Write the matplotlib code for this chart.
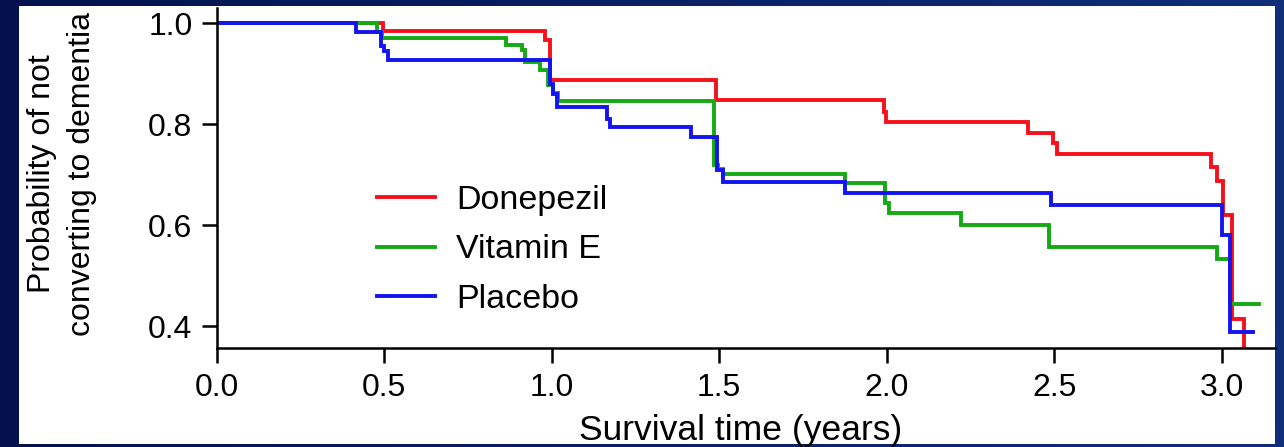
import numpy as np
import matplotlib
matplotlib.use("Agg")
import matplotlib.pyplot as plt
from matplotlib.patches import Rectangle

plt.rcParams['font.family'] = ['Liberation Sans', 'DejaVu Sans']

# Kaplan-Meier estimates: event times (years) and survival after each step
donepezil_t = [0.0, 0.495, 0.979, 0.994, 1.490, 1.991, 1.998, 2.421, 2.495, 2.507,
               2.969, 2.985, 3.005, 3.030, 3.067]
donepezil_s = [1.0, 0.985, 0.966, 0.888, 0.848, 0.825, 0.805, 0.783, 0.762, 0.741,
               0.715, 0.688, 0.620, 0.414, 0.300]

vitamin_e_t = [0.0, 0.477, 0.492, 0.865, 0.910, 0.920, 0.964, 0.989, 1.004, 1.019,
               1.483, 1.495, 1.510, 1.876, 1.995, 2.007, 2.223, 2.485, 2.987, 3.025, 3.112]
vitamin_e_s = [1.0, 0.983, 0.971, 0.957, 0.947, 0.924, 0.907, 0.878, 0.862, 0.845,
               0.720, 0.712, 0.702, 0.684, 0.644, 0.623, 0.600, 0.557, 0.532, 0.444, 0.444]

placebo_t = [0.0, 0.417, 0.490, 0.498, 0.511, 0.994, 1.004, 1.015, 1.164, 1.174,
             1.416, 1.493, 1.512, 1.876, 2.489, 3.000, 3.025, 3.094]
placebo_s = [1.0, 0.982, 0.955, 0.945, 0.927, 0.880, 0.860, 0.835, 0.810, 0.795,
             0.775, 0.709, 0.685, 0.663, 0.639, 0.580, 0.389, 0.389]

series = [
    ("Donepezil", donepezil_t, donepezil_s, "#f5101c"),
    ("Vitamin E", vitamin_e_t, vitamin_e_s, "#14aa14"),
    ("Placebo", placebo_t, placebo_s, "#1414f0"),
]

x_ticks = [0.0, 0.5, 1.0, 1.5, 2.0, 2.5, 3.0]
x_tick_labels = ["0.0", "0.5", "1.0", "1.5", "2.0", "2.5", "3.0"]
y_ticks = [0.4, 0.6, 0.8, 1.0]
y_tick_labels = ["0.4", "0.6", "0.8", "1.0"]

W, H = 1284, 447
fig = plt.figure(figsize=(W / 100, H / 100), dpi=100)

# navy slide background with a soft left-to-right gradient
bg = fig.add_axes([0, 0, 1, 1], zorder=-10)
left_c = np.array([3, 18, 78]) / 255
right_c = np.array([16, 46, 122]) / 255
grad = np.linspace(0, 1, 256)[None, :, None]
img = left_c[None, None, :] * (1 - grad) + right_c[None, None, :] * grad
bg.imshow(img, aspect='auto', extent=[0, 1, 0, 1])
bg.axis('off')

# white chart panel
panel_l, panel_r, panel_t, panel_b = 19, 1275, 6, 444
fig.patches.append(Rectangle((panel_l / W, 1 - panel_b / H),
                             (panel_r - panel_l) / W, (panel_b - panel_t) / H,
                             transform=fig.transFigure, facecolor='white',
                             edgecolor='none', zorder=-5))

ax_l, ax_r, ax_t, ax_b = 216.7, 1275, 8, 348.3
ax = fig.add_axes([ax_l / W, 1 - ax_b / H, (ax_r - ax_l) / W, (ax_b - ax_t) / H])
ax.patch.set_visible(False)

for name, t, s, c in series:
    ax.step(t, s, where='post', color=c, lw=2.8, label=name, solid_joinstyle='miter')

ax.set_xlim(0, 3.159)
ax.set_ylim(0.3558, 1.0303)
for side in ('top', 'right'):
    ax.spines[side].set_visible(False)
for side in ('left', 'bottom'):
    ax.spines[side].set_linewidth(1.8)
    ax.spines[side].set_color('black')

ax.set_xticks(x_ticks)
ax.set_xticklabels(x_tick_labels)
ax.set_yticks(y_ticks)
ax.set_yticklabels(y_tick_labels)
ax.tick_params(direction='out', length=10.5, width=1.8, pad=7, labelsize=23,
               colors='black')

ax.set_xlabel("Survival time (years)", fontsize=25.5)
ax.xaxis.label.set_va('baseline')
ax.xaxis.set_label_coords((741 - ax_l) / (ax_r - ax_l), (ax_b - 440) / (ax_b - ax_t))

ax.set_ylabel("Probability of not\nconverting to dementia", fontsize=23,
              linespacing=1.4, ha='center', va='center')
ax.yaxis.set_label_coords((62 - ax_l) / (ax_r - ax_l), (ax_b - 174) / (ax_b - ax_t))

ax.legend(loc='center left',
          bbox_to_anchor=((377 - ax_l) / (ax_r - ax_l), (ax_b - 250) / (ax_b - ax_t)),
          frameon=False, borderpad=0, borderaxespad=0, handlelength=1.7,
          handletextpad=0.62, labelspacing=0.55, fontsize=24.5)

fig.savefig("out.png", dpi=100)
